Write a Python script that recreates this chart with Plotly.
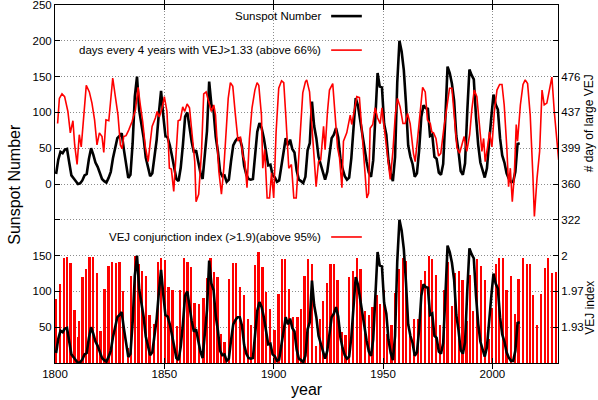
import plotly.graph_objects as go

# yearly sunspot number, 1800 .. 2012
SSN_START = 1800
SSN = [14, 34, 45, 43, 48, 49, 30, 12, 8, 3,
       0, 1, 5, 12, 14, 35, 50, 41, 30, 24,
       16, 7, 4, 2, 8.5, 17, 36, 50, 64, 67,
       71, 48, 28, 8.5, 13, 57, 122, 150, 103, 86,
       65, 37, 24, 11, 15, 40, 62, 99, 130, 96,
       67, 65, 54, 39, 21, 7, 4, 23, 55, 94,
       100, 77, 59, 44, 47, 31, 16, 7, 38, 74,
       143, 111, 102, 66, 45, 17, 11, 12, 3, 6,
       32, 54, 60, 64, 64, 52, 25, 13, 7, 6,
       7, 36, 73, 85, 78, 64, 42, 26, 27, 12,
       9.5, 3, 5, 24, 42, 64, 54, 62, 49, 44,
       19, 6, 4, 1.4, 10, 47, 57, 115, 81, 64,
       38, 26, 14, 6, 17, 44, 64, 69, 78, 65,
       36, 21, 11, 6, 9, 36, 80, 120, 110, 89,
       68, 48, 31, 16, 10, 33, 93, 155, 136, 135,
       84, 69, 32, 14, 4, 38, 142, 200, 185, 159,
       112, 54, 38, 28, 10, 15, 47, 94, 110, 106,
       105, 67, 69, 38, 35, 16, 13, 28, 93, 164,
       155, 140, 116, 67, 46, 18, 13, 29, 100, 160,
       152, 146, 94, 55, 30, 18, 9, 22, 64, 93,
       125, 111, 104, 64, 40, 30, 15, 7.5, 3, 3,
       17, 56, 57]
ssn_years = [SSN_START + i + 0.5 for i in range(len(SSN))]

# days every 4 years with VEJ > 1.33
DAYS_YEARS = [1801.2, 1802.0, 1803.2, 1804.4, 1805.9, 1807.0, 1808.2, 1809.0, 1810.1, 1811.1,
              1812.0, 1813.1, 1814.3, 1815.7, 1816.9, 1818.1, 1819.2, 1820.3, 1821.5, 1822.3,
              1823.3, 1824.6, 1825.3, 1826.4, 1827.6, 1828.8, 1829.9, 1830.7, 1831.4, 1832.5,
              1833.7, 1835.2, 1836.8, 1838.0, 1839.0, 1840.1, 1841.3, 1842.6, 1843.6, 1844.4,
              1845.9, 1846.7, 1847.7, 1849.0, 1850.0, 1851.2, 1852.3, 1853.2, 1854.3, 1855.4,
              1856.3, 1857.3, 1858.4, 1859.3, 1860.4, 1861.5, 1862.7, 1863.9, 1864.5, 1865.7,
              1867.0, 1868.0, 1869.1, 1870.3, 1871.5, 1872.6, 1873.4, 1874.9, 1876.1, 1877.2,
              1878.2, 1879.2, 1880.2, 1881.3, 1882.5, 1883.7, 1884.8, 1885.9, 1886.8, 1887.8,
              1888.9, 1890.1, 1891.4, 1892.4, 1893.2, 1894.4, 1895.0, 1895.9, 1897.0, 1898.1,
              1899.0, 1900.0, 1901.1, 1902.3, 1903.6, 1904.6, 1905.7, 1906.9, 1908.1, 1909.2,
              1910.3, 1911.2, 1912.2, 1913.3, 1914.5, 1915.1, 1916.4, 1917.4, 1918.5, 1919.4,
              1920.5, 1921.5, 1922.8, 1923.5, 1924.6, 1925.5, 1927.0, 1928.1, 1929.2, 1930.1,
              1931.2, 1931.9, 1933.4, 1935.0, 1935.7, 1936.8, 1938.0, 1939.2, 1940.3, 1941.4,
              1942.6, 1943.4, 1944.1, 1945.3, 1946.4, 1947.5, 1948.7, 1949.5, 1950.5, 1951.4,
              1952.5, 1953.3, 1954.5, 1955.6, 1956.6, 1957.8, 1959.1, 1960.1, 1961.2, 1962.4,
              1963.9, 1964.7, 1965.8, 1967.0, 1968.1, 1969.3, 1970.3, 1971.6, 1972.3, 1973.1,
              1974.2, 1975.4, 1976.4, 1977.7, 1979.2, 1980.4, 1981.5, 1982.5, 1983.8, 1985.0,
              1986.1, 1987.1, 1988.3, 1989.6, 1990.6, 1991.7, 1992.9, 1994.1, 1995.2, 1996.0,
              1996.7, 1997.8, 1998.7, 1999.8, 2000.9, 2002.1, 2003.3, 2004.4, 2005.4, 2006.6,
              2007.4, 2008.2, 2009.1, 2010.0, 2010.9, 2011.5, 2012.8, 2014.0, 2015.0, 2016.1,
              2017.3, 2018.5, 2019.2, 2020.4, 2021.6, 2022.7, 2023.7, 2024.9, 2026.2, 2027.2,
              2028.3, 2029.5, 2030.3]
DAYS = [425, 452, 457, 454, 438, 415, 428, 402, 381, 413,
        400, 434, 466, 459, 447, 429, 402, 415, 411, 394,
        429, 428, 445, 474, 454, 434, 402, 398, 411, 412,
        418, 427, 440, 464, 445, 427, 400, 384, 406, 422,
        431, 438, 432, 442, 454, 438, 377, 376, 352, 388,
        428, 429, 443, 438, 446, 442, 415, 384, 341, 349,
        395, 457, 459, 447, 438, 445, 434, 374, 349, 377,
        416, 452, 469, 465, 434, 406, 411, 390, 384, 356,
        409, 442, 461, 469, 466, 434, 377, 397, 345, 345,
        372, 345, 416, 463, 471, 469, 427, 377, 381, 345,
        345, 383, 415, 458, 470, 472, 459, 427, 395, 357,
        384, 386, 422, 397, 438, 461, 468, 438, 399, 388,
        356, 406, 415, 434, 424, 438, 454, 453, 420, 384,
        345, 350, 420, 424, 442, 431, 425, 442, 420, 400,
        377, 365, 395, 434, 452, 443, 425, 425, 436, 425,
        393, 384, 409, 442, 464, 459, 429, 425, 416, 415,
        409, 390, 393, 418, 443, 463, 463, 438, 399, 393,
        402, 411, 395, 413, 440, 461, 454, 420, 395, 409,
        384, 400, 416, 400, 438, 461, 467, 467, 445, 399,
        357, 377, 341, 368, 424, 406, 445, 467, 472, 468,
        434, 370, 325, 366, 395, 461, 445, 447, 463, 475,
        438, 409, 386]

# VEJ conjunction index (>1.9)
VEJ_YEARS = [1800.5, 1802.3, 1804.1, 1805.6, 1807.2, 1809.0, 1810.5, 1811.1, 1812.7, 1814.3,
             1815.9, 1817.5, 1819.2, 1820.9, 1822.7, 1824.6, 1826.2, 1827.9, 1829.6, 1831.1,
             1833.4, 1834.9, 1836.8, 1838.3, 1839.8, 1841.6, 1843.3, 1845.3, 1847.1, 1848.7,
             1850.5, 1852.0, 1853.8, 1855.8, 1857.3, 1859.2, 1860.7, 1862.4, 1863.9, 1865.9,
             1868.0, 1869.5, 1871.2, 1872.9, 1874.4, 1875.9, 1877.6, 1879.7, 1881.4, 1883.0,
             1884.8, 1886.5, 1888.3, 1889.7, 1891.7, 1893.2, 1895.0, 1896.5, 1898.5, 1900.5,
             1902.3, 1903.9, 1905.4, 1907.2, 1909.0, 1911.0, 1912.7, 1914.2, 1915.8, 1917.6,
             1919.4, 1921.2, 1922.8, 1924.4, 1926.1, 1927.6, 1929.3, 1931.2, 1933.0, 1934.7,
             1936.5, 1938.3, 1939.8, 1941.8, 1943.7, 1945.3, 1947.2, 1948.7, 1950.5, 1952.0,
             1954.0, 1955.7, 1957.4, 1959.2, 1960.6, 1962.4, 1964.2, 1966.1, 1967.5, 1969.3,
             1971.1, 1972.6, 1974.3, 1976.1, 1978.0, 1979.6, 1981.5, 1983.0, 1984.8, 1986.5,
             1988.3, 1990.0, 1991.4, 1993.2, 1994.9, 1996.7, 1998.6, 2000.1, 2001.8, 2003.3,
             2004.8, 2006.6, 2008.5, 2010.5, 2012.1, 2014.0, 2015.8, 2017.3, 2018.8, 2020.4,
             2022.4, 2024.0, 2025.7, 2027.2, 2029.1]
VEJ = [1.958, 1.972, 1.998, 1.999, 1.993, 1.947, 1.920, 1.936, 1.979, 1.987,
       1.999, 1.999, 1.983, 1.926, 1.967, 1.990, 1.994, 1.993, 1.994, 1.965,
       1.910, 1.980, 2.000, 1.992, 1.985, 1.980, 1.942, 1.933, 1.994, 1.998,
       1.996, 1.969, 1.966, 1.931, 1.966, 1.998, 1.994, 1.989, 1.954, 1.953,
       1.959, 1.978, 1.998, 1.984, 1.979, 1.923, 1.916, 1.977, 1.993, 1.993,
       1.969, 1.961, 1.938, 1.932, 1.991, 2.004, 1.989, 1.964, 1.948, 1.927,
       1.962, 1.997, 1.997, 1.967, 1.940, 1.940, 1.948, 1.980, 1.997, 1.992,
       1.912, 1.938, 1.956, 1.973, 1.992, 1.992, 1.976, 1.925, 1.922, 1.979,
       1.985, 1.998, 1.987, 1.946, 1.942, 1.950, 1.961, 1.953, 1.966, 1.923,
       1.932, 1.963, 1.987, 1.998, 1.995, 1.923, 1.938, 1.938, 1.976, 1.985,
       2.000, 1.997, 1.981, 1.932, 1.966, 1.994, 1.951, 1.983, 1.985, 1.976,
       1.936, 1.981, 1.946, 1.997, 1.990, 1.976, 1.918, 1.949, 1.992, 1.998,
       1.998, 1.966, 1.980, 1.943, 1.977, 1.998, 1.992, 1.992, 1.961, 1.932,
       1.962, 1.988, 1.998, 1.983, 1.984]

X_TICKS = [1800, 1850, 1900, 1950, 2000]
SSN_TICKS_TOP = [0, 50, 100, 150, 200, 250]
SSN_TICKS_BOT = [50, 100, 150, 200]
SSN_TEXT_BOT = ["50", "100", "150", ""]
DAYS_TICKS = [321.5, 360, 398.5, 437, 475.5, 514]
DAYS_TEXT = ["322", "360", "399", "437", "476", ""]
VEJ_TICKS = [1.93, 1.965, 2.0]
VEJ_TEXT = ["1.93", "1.97", "2"]

FONT = "Liberation Sans, Arial, sans-serif"
GRID = "#8c8c8c"
GRID_DASH = "1px,2px"

fig = go.Figure()

# top panel
fig.add_trace(go.Scatter(x=ssn_years, y=SSN, mode="lines", yaxis="y",
                         line=dict(color="black", width=2.6)))
fig.add_trace(go.Scatter(x=DAYS_YEARS, y=DAYS, mode="lines", yaxis="y2",
                         line=dict(color="#ff0000", width=1.6)))
# bottom panel
fig.add_trace(go.Bar(x=VEJ_YEARS, y=VEJ, yaxis="y3", width=0.8,
                     marker=dict(color="#ff0000", line=dict(width=0))))
fig.add_trace(go.Scatter(x=ssn_years, y=SSN, mode="lines", yaxis="y4",
                         line=dict(color="black", width=2.6)))

axis_common = dict(ticks="inside", ticklen=5, tickcolor="black", showline=True,
                   linecolor="black", linewidth=1, zeroline=False, automargin=False,
                   ticklabeloverflow="allow",
                   tickfont=dict(family=FONT, size=11.5, color="black"))

fig.update_layout(
    width=598, height=400,
    margin=dict(l=55, r=40, t=5, b=37),
    paper_bgcolor="white", plot_bgcolor="white",
    showlegend=False,
    font=dict(family=FONT, size=11.5, color="black"),
    xaxis=dict(range=[1800, 2030], tickvals=X_TICKS, showgrid=True, gridcolor=GRID,
               griddash=GRID_DASH, mirror="allticks", **axis_common),
    yaxis=dict(range=[-250, 250.01], tickvals=SSN_TICKS_TOP, showgrid=True, gridcolor=GRID,
               griddash=GRID_DASH, mirror=True, side="left", **axis_common),
    yaxis2=dict(range=[167.5, 552.5], tickvals=DAYS_TICKS, ticktext=DAYS_TEXT,
                showgrid=False, overlaying="y", side="right", **axis_common),
    yaxis3=dict(range=[1.895, 2.245], tickvals=VEJ_TICKS, ticktext=VEJ_TEXT,
                showgrid=False, overlaying="y", side="right", **axis_common),
    yaxis4=dict(range=[0, 500], tickvals=SSN_TICKS_BOT, ticktext=SSN_TEXT_BOT,
                showgrid=True, gridcolor=GRID, griddash=GRID_DASH, overlaying="y",
                side="left", **axis_common),
    bargap=0,
)

# key box hides the grid line behind it
fig.add_shape(type="rect", xref="paper", yref="paper", x0=0.003, x1=0.751,
              y0=0.888, y1=0.91, fillcolor="white", line=dict(width=0), layer="between")

keys = [("Sunspot Number", 0.969, "black", 2.6),
        ("days every 4 years with VEJ>1.33 (above 66%)", 0.874, "#ff0000", 1.6),
        ("VEJ conjunction index (>1.9)(above 95%)", 0.352, "#ff0000", 1.6)]
for text, ky, col, w in keys:
    fig.add_annotation(x=0.533, y=ky, xref="paper", yref="paper", text=text,
                       showarrow=False, xanchor="right", yanchor="middle",
                       font=dict(family=FONT, size=11.5, color="black"))
    fig.add_shape(type="line", xref="paper", yref="paper", x0=0.549, x1=0.61,
                  y0=ky, y1=ky, line=dict(color=col, width=w))

fig.add_annotation(x=-0.082, y=0.5, xref="paper", yref="paper", text="Sunspot Number",
                   textangle=-90, showarrow=False, xanchor="center", yanchor="middle",
                   font=dict(family=FONT, size=16, color="black"))
fig.add_annotation(x=0.5, y=-0.075, xref="paper", yref="paper", text="year",
                   showarrow=False, xanchor="center", yanchor="middle",
                   font=dict(family=FONT, size=16, color="black"))
fig.add_annotation(x=1.062, y=0.67, xref="paper", yref="paper", text="# day of large VEJ",
                   textangle=-90, showarrow=False, xanchor="center", yanchor="middle",
                   font=dict(family=FONT, size=12, color="black"))
fig.add_annotation(x=1.062, y=0.155, xref="paper", yref="paper", text="VEJ index",
                   textangle=-90, showarrow=False, xanchor="center", yanchor="middle",
                   font=dict(family=FONT, size=12, color="black"))

fig.write_html("out.html", config={"displayModeBar": False},
               post_script="document.body.style.margin='0';")
